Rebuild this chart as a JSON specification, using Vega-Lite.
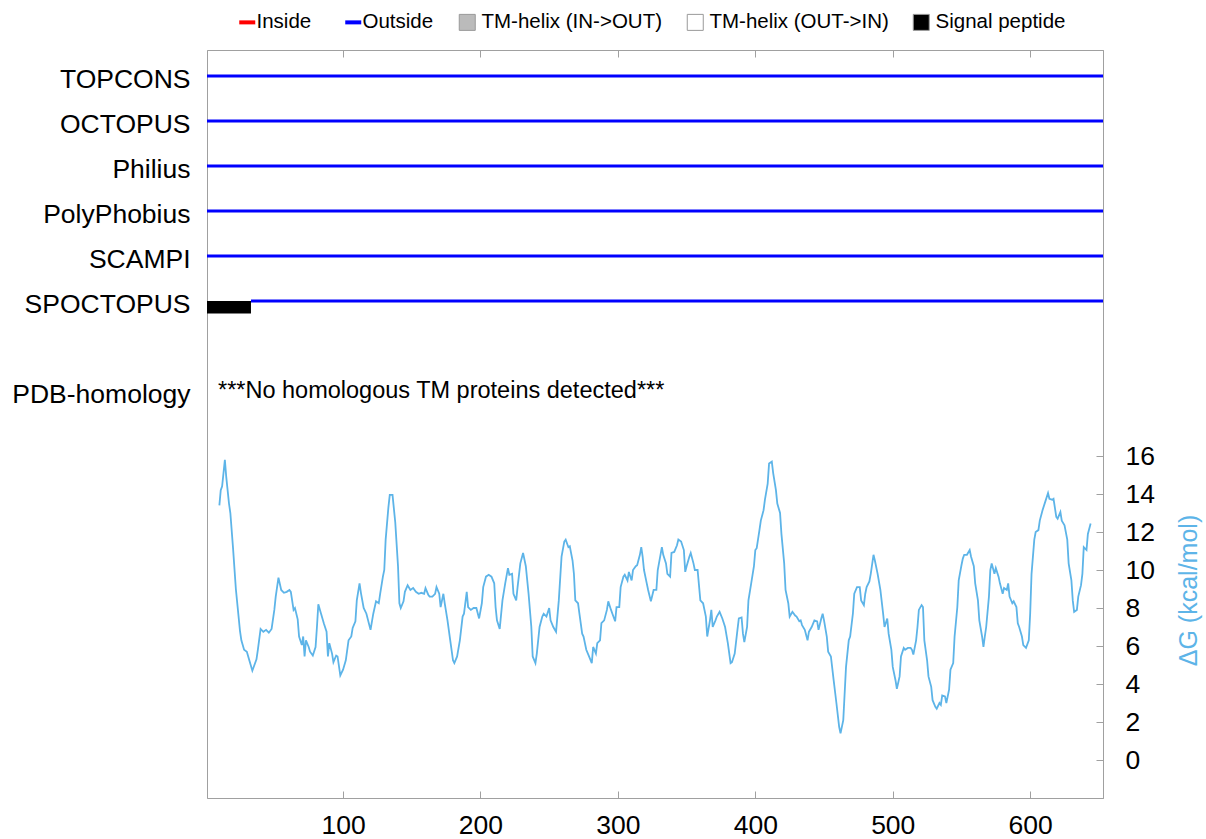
{
  "$schema": "https://vega.github.io/schema/vega-lite/v6.json",
  "autosize": {"type": "none"},
  "width": 896,
  "height": 748,
  "padding": {"left": 207, "top": 50, "right": 103, "bottom": 41},
  "background": "white",
  "config": {
    "font": "Liberation Sans",
    "view": {"stroke": "#A0A0A0", "strokeWidth": 1},
    "axis": {
      "grid": false,
      "domainColor": "#A0A0A0",
      "tickColor": "#A0A0A0",
      "labelColor": "#000000",
      "labelFont": "Liberation Sans",
      "labelFontSize": 26.5,
      "labelFlush": false,
      "labelOverlap": false
    },
    "legend": {
      "labelFont": "Liberation Sans",
      "labelFontSize": 20.5,
      "labelColor": "#000000",
      "labelLimit": 0,
      "gridAlign": "each",
      "padding": 0
    }
  },
  "datasets": {
    "tracks": [
      {"method": "TOPCONS", "row": 1, "start": 1, "end": 653, "type": "Outside"},
      {"method": "OCTOPUS", "row": 2, "start": 1, "end": 653, "type": "Outside"},
      {"method": "Philius", "row": 3, "start": 1, "end": 653, "type": "Outside"},
      {"method": "PolyPhobius", "row": 4, "start": 1, "end": 653, "type": "Outside"},
      {"method": "SCAMPI", "row": 5, "start": 1, "end": 653, "type": "Outside"},
      {"method": "SPOCTOPUS", "row": 6, "start": 1, "end": 33, "type": "Signal peptide"},
      {"method": "SPOCTOPUS", "row": 6, "start": 33, "end": 653, "type": "Outside"}
    ],
    "notes": [
      {"pos": 9, "row": 8, "note": "***No homologous TM proteins detected***"}
    ],
    "boxes": [
      {"type": "TM-helix (IN->OUT)"},
      {"type": "TM-helix (OUT->IN)"},
      {"type": "Signal peptide"}
    ],
    "dg": [
      {"pos":10,"dg":13.4},{"pos":11,"dg":14.2},{"pos":12,"dg":14.4},{"pos":14,"dg":15.8},{"pos":15,"dg":14.9},{"pos":17,"dg":13.5},{"pos":18,"dg":13.0},{"pos":20,"dg":11.1},{"pos":22,"dg":9.0},{"pos":25,"dg":6.8},{"pos":26,"dg":6.3},{"pos":28,"dg":5.8},{"pos":30,"dg":5.7},{"pos":32,"dg":5.2},{"pos":34,"dg":4.7},{"pos":37,"dg":5.3},{"pos":38,"dg":5.8},{"pos":40,"dg":6.9},{"pos":42,"dg":6.75},{"pos":44,"dg":6.85},{"pos":46,"dg":6.7},{"pos":48,"dg":6.9},{"pos":50,"dg":7.9},{"pos":51,"dg":8.6},{"pos":53,"dg":9.6},{"pos":55,"dg":8.95},{"pos":57,"dg":8.8},{"pos":59,"dg":8.85},{"pos":61,"dg":8.95},{"pos":62,"dg":8.85},{"pos":64,"dg":7.9},{"pos":65,"dg":8.0},{"pos":67,"dg":7.4},{"pos":68,"dg":6.5},{"pos":70,"dg":6.05},{"pos":71,"dg":6.5},{"pos":72,"dg":5.45},{"pos":73,"dg":6.3},{"pos":75,"dg":5.95},{"pos":76,"dg":5.7},{"pos":78,"dg":5.5},{"pos":80,"dg":5.95},{"pos":81,"dg":7.0},{"pos":82,"dg":8.2},{"pos":84,"dg":7.7},{"pos":86,"dg":7.2},{"pos":88,"dg":6.75},{"pos":89,"dg":5.45},{"pos":90,"dg":6.15},{"pos":92,"dg":5.6},{"pos":93,"dg":5.15},{"pos":95,"dg":5.5},{"pos":96,"dg":5.45},{"pos":98,"dg":4.45},{"pos":100,"dg":4.75},{"pos":102,"dg":5.25},{"pos":104,"dg":6.3},{"pos":106,"dg":6.5},{"pos":107,"dg":6.95},{"pos":109,"dg":7.3},{"pos":110,"dg":8.4},{"pos":112,"dg":9.3},{"pos":113,"dg":8.8},{"pos":115,"dg":8.0},{"pos":117,"dg":7.7},{"pos":120,"dg":6.85},{"pos":122,"dg":7.7},{"pos":124,"dg":8.35},{"pos":126,"dg":8.25},{"pos":127,"dg":8.75},{"pos":129,"dg":9.65},{"pos":130,"dg":10.0},{"pos":131,"dg":11.6},{"pos":133,"dg":13.3},{"pos":134,"dg":13.95},{"pos":136,"dg":13.95},{"pos":138,"dg":12.5},{"pos":140,"dg":10.2},{"pos":141,"dg":8.25},{"pos":142,"dg":8.0},{"pos":144,"dg":8.35},{"pos":145,"dg":8.85},{"pos":147,"dg":9.2},{"pos":149,"dg":8.95},{"pos":151,"dg":9.05},{"pos":153,"dg":8.85},{"pos":155,"dg":8.75},{"pos":157,"dg":8.8},{"pos":159,"dg":8.75},{"pos":160,"dg":9.05},{"pos":162,"dg":8.7},{"pos":163,"dg":8.6},{"pos":165,"dg":8.6},{"pos":167,"dg":8.75},{"pos":168,"dg":9.1},{"pos":170,"dg":8.75},{"pos":171,"dg":8.05},{"pos":173,"dg":8.75},{"pos":174,"dg":8.25},{"pos":176,"dg":7.35},{"pos":178,"dg":6.3},{"pos":180,"dg":5.25},{"pos":181,"dg":5.1},{"pos":183,"dg":5.45},{"pos":185,"dg":6.3},{"pos":187,"dg":7.55},{"pos":188,"dg":7.7},{"pos":190,"dg":8.85},{"pos":191,"dg":8.05},{"pos":193,"dg":7.9},{"pos":195,"dg":8.0},{"pos":197,"dg":8.0},{"pos":199,"dg":7.45},{"pos":201,"dg":8.25},{"pos":202,"dg":9.1},{"pos":204,"dg":9.65},{"pos":206,"dg":9.75},{"pos":208,"dg":9.65},{"pos":210,"dg":9.3},{"pos":211,"dg":8.05},{"pos":212,"dg":7.35},{"pos":214,"dg":6.9},{"pos":216,"dg":8.4},{"pos":218,"dg":9.3},{"pos":220,"dg":10.1},{"pos":221,"dg":9.75},{"pos":223,"dg":9.8},{"pos":224,"dg":8.75},{"pos":226,"dg":8.4},{"pos":227,"dg":9.1},{"pos":229,"dg":10.35},{"pos":231,"dg":10.9},{"pos":233,"dg":10.2},{"pos":235,"dg":8.75},{"pos":237,"dg":7.0},{"pos":238,"dg":5.45},{"pos":240,"dg":5.1},{"pos":241,"dg":5.6},{"pos":243,"dg":7.0},{"pos":245,"dg":7.55},{"pos":246,"dg":7.7},{"pos":248,"dg":7.55},{"pos":250,"dg":8.0},{"pos":251,"dg":7.35},{"pos":253,"dg":7.0},{"pos":255,"dg":6.75},{"pos":257,"dg":8.4},{"pos":259,"dg":10.7},{"pos":261,"dg":11.5},{"pos":262,"dg":11.6},{"pos":264,"dg":11.2},{"pos":265,"dg":11.25},{"pos":267,"dg":10.5},{"pos":268,"dg":9.8},{"pos":269,"dg":8.4},{"pos":271,"dg":8.25},{"pos":272,"dg":7.7},{"pos":274,"dg":6.65},{"pos":275,"dg":6.5},{"pos":277,"dg":5.8},{"pos":279,"dg":5.45},{"pos":281,"dg":5.1},{"pos":282,"dg":5.95},{"pos":284,"dg":5.6},{"pos":285,"dg":6.15},{"pos":287,"dg":6.3},{"pos":288,"dg":7.2},{"pos":290,"dg":7.35},{"pos":292,"dg":7.9},{"pos":293,"dg":8.35},{"pos":295,"dg":7.9},{"pos":296,"dg":7.7},{"pos":298,"dg":7.3},{"pos":299,"dg":8.05},{"pos":301,"dg":8.05},{"pos":302,"dg":9.1},{"pos":304,"dg":9.65},{"pos":305,"dg":9.75},{"pos":307,"dg":9.45},{"pos":308,"dg":9.9},{"pos":310,"dg":9.45},{"pos":311,"dg":10.0},{"pos":313,"dg":10.2},{"pos":314,"dg":10.25},{"pos":316,"dg":10.8},{"pos":317,"dg":11.2},{"pos":318,"dg":10.7},{"pos":319,"dg":10.0},{"pos":321,"dg":9.3},{"pos":322,"dg":8.95},{"pos":324,"dg":8.35},{"pos":326,"dg":8.95},{"pos":328,"dg":8.95},{"pos":329,"dg":10.0},{"pos":331,"dg":10.8},{"pos":332,"dg":11.2},{"pos":333,"dg":10.8},{"pos":335,"dg":10.35},{"pos":336,"dg":9.8},{"pos":338,"dg":9.65},{"pos":339,"dg":10.9},{"pos":341,"dg":10.95},{"pos":343,"dg":11.3},{"pos":344,"dg":11.6},{"pos":346,"dg":11.5},{"pos":348,"dg":11.05},{"pos":349,"dg":9.9},{"pos":350,"dg":10.2},{"pos":352,"dg":10.7},{"pos":353,"dg":10.9},{"pos":355,"dg":10.35},{"pos":356,"dg":10.0},{"pos":358,"dg":10.0},{"pos":360,"dg":8.4},{"pos":362,"dg":8.25},{"pos":364,"dg":7.55},{"pos":365,"dg":6.5},{"pos":367,"dg":7.35},{"pos":368,"dg":7.9},{"pos":369,"dg":7.0},{"pos":371,"dg":7.35},{"pos":372,"dg":7.55},{"pos":374,"dg":7.8},{"pos":376,"dg":7.45},{"pos":378,"dg":7.0},{"pos":380,"dg":6.15},{"pos":382,"dg":5.1},{"pos":383,"dg":5.15},{"pos":385,"dg":5.6},{"pos":387,"dg":6.85},{"pos":388,"dg":7.45},{"pos":390,"dg":7.5},{"pos":391,"dg":6.65},{"pos":392,"dg":6.2},{"pos":394,"dg":7.0},{"pos":395,"dg":8.4},{"pos":397,"dg":9.3},{"pos":399,"dg":10.2},{"pos":400,"dg":11.05},{"pos":401,"dg":11.15},{"pos":403,"dg":12.1},{"pos":404,"dg":12.6},{"pos":406,"dg":13.15},{"pos":407,"dg":13.7},{"pos":409,"dg":14.55},{"pos":410,"dg":15.6},{"pos":412,"dg":15.7},{"pos":413,"dg":15.1},{"pos":415,"dg":14.2},{"pos":416,"dg":13.5},{"pos":418,"dg":13.0},{"pos":419,"dg":11.9},{"pos":421,"dg":10.35},{"pos":422,"dg":8.95},{"pos":424,"dg":8.25},{"pos":425,"dg":7.55},{"pos":427,"dg":7.8},{"pos":429,"dg":7.6},{"pos":430,"dg":7.55},{"pos":432,"dg":7.3},{"pos":433,"dg":7.35},{"pos":434,"dg":7.1},{"pos":436,"dg":6.85},{"pos":438,"dg":6.3},{"pos":439,"dg":6.75},{"pos":441,"dg":7.0},{"pos":443,"dg":7.35},{"pos":445,"dg":7.3},{"pos":446,"dg":6.85},{"pos":448,"dg":7.45},{"pos":449,"dg":7.7},{"pos":450,"dg":7.35},{"pos":452,"dg":6.5},{"pos":453,"dg":5.7},{"pos":455,"dg":5.45},{"pos":457,"dg":4.2},{"pos":459,"dg":3.0},{"pos":461,"dg":1.75},{"pos":462,"dg":1.4},{"pos":464,"dg":2.1},{"pos":465,"dg":3.5},{"pos":466,"dg":4.9},{"pos":468,"dg":6.3},{"pos":469,"dg":6.5},{"pos":471,"dg":7.7},{"pos":472,"dg":8.75},{"pos":474,"dg":9.1},{"pos":476,"dg":9.1},{"pos":477,"dg":8.4},{"pos":479,"dg":8.15},{"pos":480,"dg":8.75},{"pos":481,"dg":9.1},{"pos":483,"dg":9.4},{"pos":484,"dg":9.8},{"pos":486,"dg":10.8},{"pos":487,"dg":10.5},{"pos":489,"dg":9.8},{"pos":491,"dg":8.95},{"pos":493,"dg":7.7},{"pos":494,"dg":7.0},{"pos":496,"dg":7.45},{"pos":497,"dg":6.65},{"pos":499,"dg":5.8},{"pos":500,"dg":4.9},{"pos":502,"dg":4.2},{"pos":503,"dg":3.75},{"pos":505,"dg":4.4},{"pos":506,"dg":5.45},{"pos":508,"dg":5.9},{"pos":509,"dg":5.8},{"pos":511,"dg":5.9},{"pos":513,"dg":5.9},{"pos":514,"dg":5.8},{"pos":515,"dg":5.55},{"pos":517,"dg":6.3},{"pos":518,"dg":7.0},{"pos":519,"dg":7.9},{"pos":521,"dg":8.15},{"pos":522,"dg":8.05},{"pos":523,"dg":6.3},{"pos":525,"dg":5.25},{"pos":526,"dg":4.4},{"pos":528,"dg":3.85},{"pos":529,"dg":3.15},{"pos":531,"dg":2.8},{"pos":532,"dg":2.7},{"pos":534,"dg":3.0},{"pos":535,"dg":2.9},{"pos":536,"dg":3.4},{"pos":538,"dg":3.35},{"pos":539,"dg":3.0},{"pos":541,"dg":3.7},{"pos":542,"dg":4.75},{"pos":544,"dg":5.1},{"pos":545,"dg":6.5},{"pos":547,"dg":8.05},{"pos":548,"dg":9.45},{"pos":550,"dg":10.25},{"pos":551,"dg":10.6},{"pos":552,"dg":10.8},{"pos":554,"dg":10.8},{"pos":556,"dg":11.05},{"pos":557,"dg":10.7},{"pos":559,"dg":10.2},{"pos":560,"dg":9.3},{"pos":562,"dg":8.4},{"pos":563,"dg":7.35},{"pos":565,"dg":6.5},{"pos":566,"dg":5.95},{"pos":567,"dg":6.5},{"pos":568,"dg":7.0},{"pos":570,"dg":8.6},{"pos":571,"dg":10.0},{"pos":572,"dg":10.35},{"pos":574,"dg":9.8},{"pos":575,"dg":10.1},{"pos":577,"dg":9.65},{"pos":578,"dg":9.3},{"pos":580,"dg":8.75},{"pos":581,"dg":9.05},{"pos":583,"dg":8.95},{"pos":584,"dg":9.3},{"pos":585,"dg":8.6},{"pos":587,"dg":8.25},{"pos":588,"dg":8.35},{"pos":590,"dg":8.05},{"pos":591,"dg":7.2},{"pos":592,"dg":7.0},{"pos":594,"dg":6.5},{"pos":595,"dg":6.05},{"pos":597,"dg":5.9},{"pos":599,"dg":6.3},{"pos":600,"dg":7.7},{"pos":601,"dg":9.8},{"pos":603,"dg":11.6},{"pos":604,"dg":12.0},{"pos":606,"dg":12.1},{"pos":607,"dg":12.6},{"pos":609,"dg":13.15},{"pos":611,"dg":13.6},{"pos":613,"dg":14.05},{"pos":614,"dg":13.75},{"pos":616,"dg":13.7},{"pos":617,"dg":13.75},{"pos":619,"dg":12.8},{"pos":620,"dg":12.7},{"pos":622,"dg":13.05},{"pos":623,"dg":12.6},{"pos":625,"dg":12.35},{"pos":627,"dg":11.6},{"pos":628,"dg":10.35},{"pos":630,"dg":9.45},{"pos":631,"dg":8.4},{"pos":632,"dg":7.8},{"pos":634,"dg":7.9},{"pos":635,"dg":8.6},{"pos":637,"dg":9.2},{"pos":638,"dg":9.8},{"pos":639,"dg":11.2},{"pos":641,"dg":11.05},{"pos":642,"dg":11.9},{"pos":644,"dg":12.45}
    ]
  },
  "layer": [
    {
      "layer": [
        {
          "data": {"name": "tracks"},
          "transform": [{"filter": "datum.type === 'Outside'"}],
          "mark": {"type": "rule", "strokeWidth": 3, "strokeCap": "butt"},
          "encoding": {
            "x": {
              "field": "start", "type": "quantitative",
              "scale": {"domain": [1, 653], "nice": false, "zero": false},
              "axis": {"orient": "top", "values": [100, 200, 300, 400, 500, 600], "tickSize": -7, "labels": false, "title": null}
            },
            "x2": {"field": "end"},
            "y": {
              "field": "row", "type": "quantitative",
              "scale": {"domain": [0.4222, 17.044], "reverse": true, "nice": false, "zero": false},
              "axis": {
                "orient": "left",
                "values": [1, 2, 3, 4, 5, 6, 8],
                "labelExpr": "['', 'TOPCONS', 'OCTOPUS', 'Philius', 'PolyPhobius', 'SCAMPI', 'SPOCTOPUS', '', 'PDB-homology'][datum.value]",
                "domain": false,
                "ticks": false,
                "labelPadding": 17,
                "labelOffset": 3,
                "title": null
              }
            },
            "color": {
              "field": "type", "type": "nominal",
              "scale": {
                "domain": ["Inside", "Outside", "TM-helix (IN->OUT)", "TM-helix (OUT->IN)", "Signal peptide"],
                "range": ["#FF0000", "#0000FF", "#BBBBBB", "#FFFFFF", "#000000"]
              },
              "legend": {
                "title": null,
                "values": ["Inside", "Outside"],
                "orient": "none",
                "legendX": 30,
                "legendY": -38,
                "direction": "horizontal",
                "gridAlign": "each",
                "symbolType": "stroke",
                "symbolSize": 256,
                "symbolStrokeWidth": 4,
                "labelOffset": -1,
                "columnPadding": 25
              }
            }
          }
        },
        {
          "data": {"name": "tracks"},
          "transform": [{"filter": "datum.type === 'Signal peptide'"}],
          "mark": {"type": "rule", "strokeWidth": 12.6, "strokeCap": "butt", "yOffset": 6.3},
          "encoding": {
            "x": {"field": "start", "type": "quantitative"},
            "x2": {"field": "end"},
            "y": {"field": "row", "type": "quantitative"},
            "color": {"field": "type", "type": "nominal"}
          }
        },
        {
          "data": {"name": "notes"},
          "mark": {"type": "text", "align": "left", "baseline": "middle", "fontSize": 23.5, "font": "Liberation Sans", "color": "#000000"},
          "encoding": {
            "x": {"field": "pos", "type": "quantitative"},
            "y": {"field": "row", "type": "quantitative"},
            "text": {"field": "note"}
          }
        }
      ]
    },
    {
      "data": {"name": "dg"},
      "mark": {"type": "line", "color": "#5DB4E8", "strokeWidth": 1.8},
      "encoding": {
        "x": {
          "field": "pos", "type": "quantitative",
          "axis": {"orient": "bottom", "values": [100, 200, 300, 400, 500, 600], "tickSize": -7, "labelPadding": 21, "title": null}
        },
        "y": {
          "field": "dg", "type": "quantitative",
          "scale": {"domain": [-2, 37.37], "nice": false, "zero": false},
          "axis": {
            "orient": "right",
            "values": [0, 2, 4, 6, 8, 10, 12, 14, 16],
            "tickSize": -7,
            "labelPadding": 29,
            "title": "ΔG (kcal/mol)",
            "titleColor": "#5DB4E8",
            "titleFont": "Liberation Sans",
            "titleFontSize": 25,
            "titleFontWeight": "normal",
            "titleAngle": 270,
            "titleX": 85,
            "titleY": 540,
            "titleBaseline": "middle",
            "titleAlign": "center"
          }
        }
      }
    },
    {
      "data": {"name": "boxes"},
      "mark": {"type": "point", "shape": "square", "filled": true, "opacity": 0},
      "encoding": {
        "fill": {
          "field": "type", "type": "nominal",
          "scale": {
            "domain": ["TM-helix (IN->OUT)", "TM-helix (OUT->IN)", "Signal peptide"],
            "range": ["#BBBBBB", "#FFFFFF", "#000000"]
          },
          "legend": {
            "title": null,
            "orient": "none",
            "legendX": 250,
            "legendY": -38,
            "direction": "horizontal",
            "gridAlign": "each",
            "symbolType": "square",
            "symbolSize": 256,
            "symbolOpacity": 1,
            "symbolStrokeColor": "#999999",
            "symbolStrokeWidth": 1,
            "labelOffset": 4,
            "columnPadding": 22
          }
        }
      }
    }
  ],
  "resolve": {"scale": {"y": "independent"}, "axis": {"x": "independent"}}
}
